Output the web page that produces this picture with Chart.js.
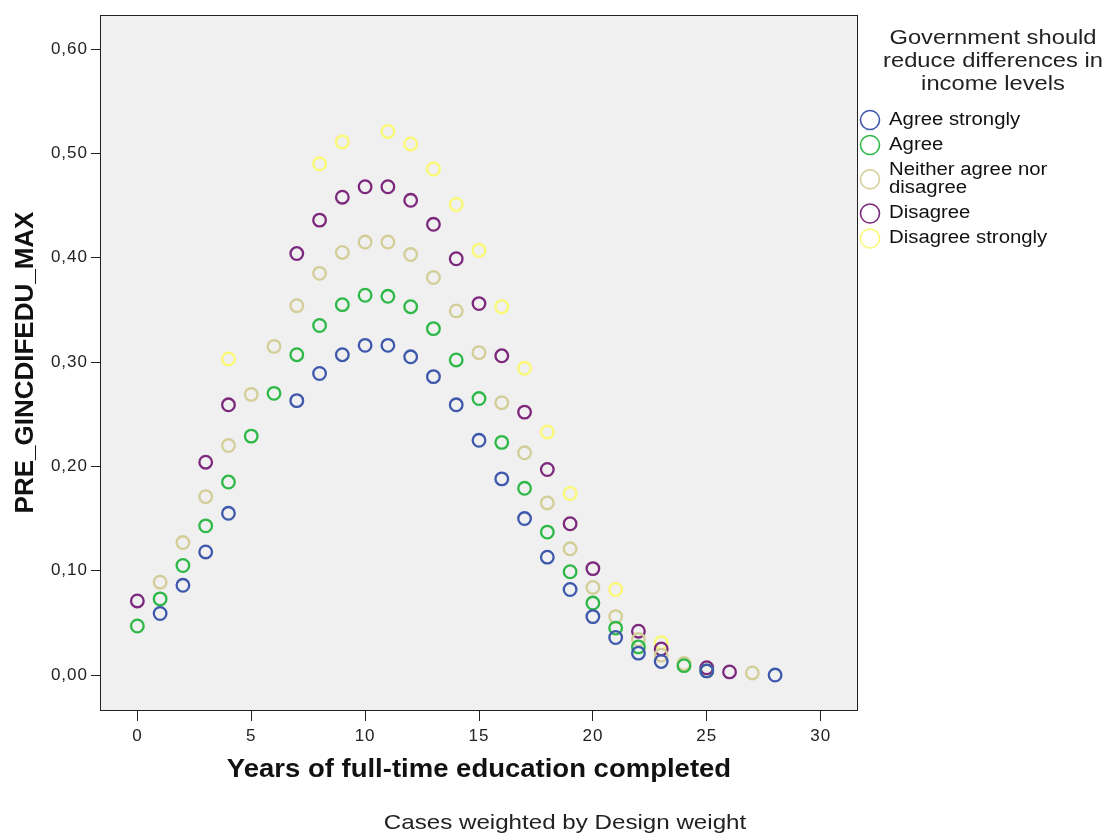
<!DOCTYPE html>
<html>
<head>
<meta charset="utf-8">
<title>PRE_GINCDIFEDU_MAX by years of education</title>
<script src="https://cdn.jsdelivr.net/npm/chart.js@4/dist/chart.umd.min.js"></script>
<style>
  html, body { margin: 0; padding: 0; background: #ffffff; }
  canvas { display: block; }
</style>
</head>
<body>
<canvas id="chart" width="1108" height="834"></canvas>
<script>
// Response categories of "Government should reduce differences in income levels"
const seriesNames = ['Agree strongly', 'Agree', 'Neither agree nor disagree', 'Disagree', 'Disagree strongly'];
const legendLines = [['Agree strongly'], ['Agree'], ['Neither agree nor', 'disagree'], ['Disagree'], ['Disagree strongly']];
const legendTitle = ['Government should', 'reduce differences in', 'income levels'];
const seriesColors = ['#3E58AC', '#2EB848', '#D3CE97', '#7C287D', '#FBF873'];

// Years of full-time education completed and the predicted value for each category
const agreeStronglyYears = [1, 2, 3, 4, 7, 8, 9, 10, 11, 12, 13, 14, 15, 16, 17, 18, 19, 20, 21, 22, 23, 25, 28];
const agreeStronglyValues = [0.059, 0.086, 0.118, 0.155, 0.263, 0.289, 0.307, 0.316, 0.316, 0.305, 0.286, 0.259, 0.225, 0.188, 0.150, 0.113, 0.082, 0.056, 0.036, 0.021, 0.013, 0.004, 0.000];

const agreeYears = [0, 1, 2, 3, 4, 5, 6, 7, 8, 9, 10, 11, 12, 13, 14, 15, 16, 17, 18, 19, 20, 21, 22, 24, 25];
const agreeValues = [0.047, 0.073, 0.105, 0.143, 0.185, 0.229, 0.270, 0.307, 0.335, 0.355, 0.364, 0.363, 0.353, 0.332, 0.302, 0.265, 0.223, 0.179, 0.137, 0.099, 0.069, 0.045, 0.027, 0.009, 0.004];

const neitherYears = [1, 2, 3, 4, 5, 6, 7, 8, 9, 10, 11, 12, 13, 14, 15, 16, 17, 18, 19, 20, 21, 22, 23, 24, 27];
const neitherValues = [0.089, 0.127, 0.171, 0.220, 0.269, 0.315, 0.354, 0.385, 0.405, 0.415, 0.415, 0.403, 0.381, 0.349, 0.309, 0.261, 0.213, 0.165, 0.121, 0.084, 0.056, 0.034, 0.019, 0.011, 0.002];

const disagreeYears = [0, 3, 4, 7, 8, 9, 10, 11, 12, 13, 14, 15, 16, 17, 18, 19, 20, 22, 23, 25, 26];
const disagreeValues = [0.071, 0.204, 0.259, 0.404, 0.436, 0.458, 0.468, 0.468, 0.455, 0.432, 0.399, 0.356, 0.306, 0.252, 0.197, 0.145, 0.102, 0.042, 0.025, 0.007, 0.003];

const disagreeStronglyYears = [4, 8, 9, 11, 12, 13, 14, 15, 16, 17, 18, 19, 21, 23];
const disagreeStronglyValues = [0.303, 0.490, 0.511, 0.521, 0.509, 0.485, 0.451, 0.407, 0.353, 0.294, 0.233, 0.174, 0.082, 0.031];

// Axis ticks
const xTicks = [0, 5, 10, 15, 20, 25, 30];
const yTicks = [0, 0.1, 0.2, 0.3, 0.4, 0.5, 0.6];

const xTitle = 'Years of full-time education completed';
const yTitle = 'PRE_GINCDIFEDU_MAX';
const footnote = 'Cases weighted by Design weight';

const seriesYears = [agreeStronglyYears, agreeYears, neitherYears, disagreeYears, disagreeStronglyYears];
const seriesValues = [agreeStronglyValues, agreeValues, neitherValues, disagreeValues, disagreeStronglyValues];

const FONT = "'Liberation Sans', Arial, Helvetica, sans-serif";
Chart.defaults.font.family = FONT;

const datasets = seriesNames.map((name, i) => ({
  label: name,
  data: seriesYears[i].map((yr, j) => ({ x: yr, y: seriesValues[i][j] })),
  borderColor: seriesColors[i],
  backgroundColor: 'rgba(0,0,0,0)',
  pointStyle: 'circle',
  pointRadius: 6.3,
  pointHoverRadius: 6.3,
  pointBorderWidth: 2.3,
  showLine: false
}));

// Text drawn slightly widened horizontally, the way the output renderer sets it
function wideText(ctx, text, x, y, font, sx, align, color) {
  ctx.save();
  ctx.translate(x, y);
  ctx.scale(sx, 1);
  ctx.font = font;
  ctx.letterSpacing = '0px';
  ctx.fillStyle = color || '#111';
  ctx.textBaseline = 'middle';
  ctx.textAlign = align || 'left';
  ctx.fillText(text, 0, 0);
  ctx.restore();
}

const frameAndAnnotations = {
  id: 'frameAndAnnotations',
  beforeDraw(chart) {
    const { ctx, chartArea: a } = chart;
    ctx.save();
    ctx.fillStyle = '#ffffff';
    ctx.fillRect(0, 0, chart.width, chart.height);
    ctx.fillStyle = '#F0F0F0';
    ctx.fillRect(a.left, a.top, a.right - a.left, a.bottom - a.top);
    ctx.restore();
    // tick labels are rendered slightly spread out
    ctx.letterSpacing = '1px';
  },
  beforeDatasetsDraw(chart) {
    const { ctx, chartArea: a } = chart;
    ctx.save();
    ctx.strokeStyle = '#222';
    ctx.lineWidth = 1;
    ctx.strokeRect(a.left + 0.5, a.top + 0.5, a.right - a.left - 1, a.bottom - a.top);
    ctx.restore();
  },
  afterDraw(chart) {
    const { ctx, chartArea: a } = chart;
    const cx = (a.left + a.right) / 2;
    const cy = (a.top + a.bottom) / 2;

    // axis titles
    wideText(ctx, xTitle, cx, 770, 'bold 25px ' + FONT, 1.1, 'center', '#111');
    ctx.save();
    ctx.translate(26, cy);
    ctx.rotate(-Math.PI / 2);
    wideText(ctx, yTitle, 0, 0, 'bold 26px ' + FONT, 1.0, 'center', '#111');
    ctx.restore();

    // footnote
    wideText(ctx, footnote, 565, 823, '21px ' + FONT, 1.15, 'center', '#222');

    // legend
    const lx = 993;
    legendTitle.forEach((line, i) => {
      wideText(ctx, line, lx, 38 + i * 23, '21px ' + FONT, 1.13, 'center', '#222');
    });
    let y = 120;
    const lineH = 18.5;
    legendLines.forEach((lines, i) => {
      const midY = y + (lines.length - 1) * lineH / 2;
      ctx.save();
      ctx.strokeStyle = seriesColors[i];
      ctx.lineWidth = 1.6;
      ctx.beginPath();
      ctx.arc(870, midY, 9.5, 0, Math.PI * 2);
      ctx.stroke();
      ctx.restore();
      lines.forEach((t, k) => {
        wideText(ctx, t, 889, y + k * lineH, '18px ' + FONT, 1.13, 'left', '#111');
      });
      y += lines.length * lineH + 6.5;
    });
  }
};

new Chart(document.getElementById('chart'), {
  type: 'scatter',
  data: { datasets },
  options: {
    responsive: false,
    animation: false,
    devicePixelRatio: 1,
    layout: { padding: { left: 0, top: 15, right: 250, bottom: 0 } },
    plugins: {
      legend: { display: false },
      tooltip: { enabled: false },
      title: { display: false }
    },
    scales: {
      x: {
        type: 'linear',
        min: -1.64,
        max: 31.64,
        afterBuildTicks: s => { s.ticks = xTicks.map(v => ({ value: v })); },
        afterFit: s => { s.height = 124; },
        grid: { drawOnChartArea: false, drawTicks: true, tickLength: 11, tickColor: '#222', tickWidth: 1 },
        border: { display: false },
        ticks: { font: { size: 17 }, color: '#222', padding: 5, maxRotation: 0, autoSkip: false }
      },
      y: {
        type: 'linear',
        min: -0.0335,
        max: 0.6326,
        afterBuildTicks: s => { s.ticks = yTicks.map(v => ({ value: v })); },
        afterFit: s => { s.width = 100; },
        grid: { drawOnChartArea: false, drawTicks: true, tickLength: 9, tickColor: '#222', tickWidth: 1 },
        border: { display: false },
        ticks: {
          font: { size: 17 },
          color: '#222',
          padding: 3,
          callback: v => v.toFixed(2).replace('.', ',')
        }
      }
    }
  },
  plugins: [frameAndAnnotations]
});
</script>
</body>
</html>
